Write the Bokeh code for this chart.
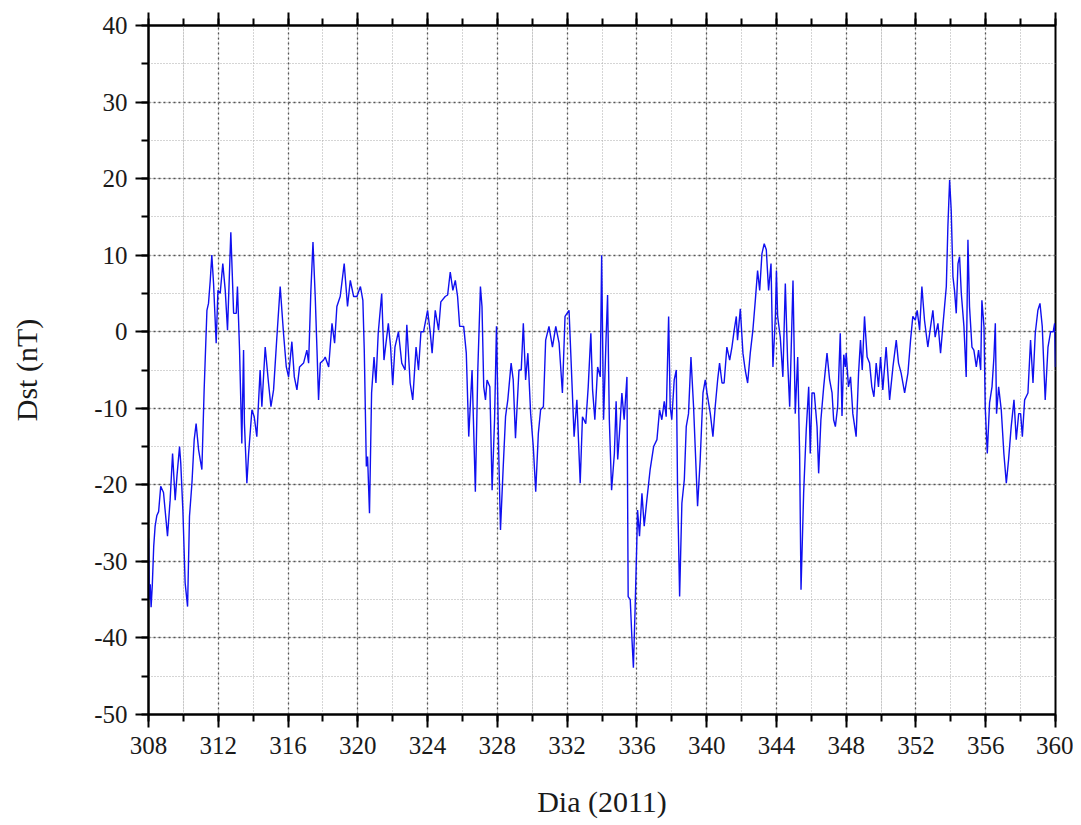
from bokeh.plotting import figure
from bokeh.models import (Range1d, LinearAxis, SingleIntervalTicker, CustomJSTickFormatter, Grid)
from bokeh.embed import file_html
from bokeh.resources import INLINE

# Day of year 2011 and Dst (nT), in four chunks
dia_1 = [308.00, 308.05, 308.10, 308.15, 308.22, 308.30, 308.38, 308.48, 308.58, 308.70,
         308.86, 309.09, 309.24, 309.38, 309.53, 309.63, 309.78, 309.85, 309.97, 310.10,
         310.24, 310.35, 310.49, 310.62, 310.73, 310.87, 311.06, 311.19, 311.35, 311.44,
         311.54, 311.63, 311.73, 311.88, 311.98, 312.11, 312.26, 312.40, 312.53, 312.72,
         312.88, 313.03, 313.10, 313.22, 313.35, 313.45, 313.50, 313.64, 313.74, 313.93,
         314.06, 314.21, 314.40, 314.50, 314.69, 314.88, 315.02, 315.17, 315.36, 315.55,
         315.74, 315.90, 316.03, 316.22, 316.36, 316.51, 316.66, 316.89, 317.08, 317.18,
         317.31, 317.43, 317.56, 317.66, 317.75, 317.85, 318.04, 318.13, 318.33, 318.52,
         318.67, 318.80, 318.99, 319.22, 319.41, 319.57, 319.76, 319.95, 320.15, 320.29,
         320.37, 320.49, 320.56, 320.67]
dst_1 = [-27, -35, -33, -36, -33, -28, -25.4, -24, -23.5, -20.2,
         -21, -26.7, -22, -15.9, -22, -18.9, -15, -17.2, -23.3, -32.8,
         -35.9, -24.1, -19.8, -14.1, -12, -15.4, -18, -7.6, 2.8, 3.7,
         6.7, 10, 6.3, -1.5, 5.4, 5, 8.9, 5.4, 0.2, 13,
         2.4, 2.4, 5.9, -2.4, -14.6, -2.4, -12, -19.8, -15.9, -10.2,
         -11.1, -13.7, -5, -9.8, -2, -6.7, -9.8, -7.6, -0.7, 5.9,
         -0.2, -4.6, -5.9, -1.3, -5.9, -7.6, -4.6, -4.1, -2.4, -4.1,
         5.4, 11.7, 4.5, -2.4, -8.9, -4.1, -3.7, -3.3, -4.6, 1.1,
         -1.5, 3.3, 4.6, 8.9, 3.3, 6.7, 4.6, 4.6, 5.9, 4.1,
         -2.4, -17.6, -16.3, -23.7]

dia_2 = [320.79, 320.93, 321.04, 321.17, 321.37, 321.50, 321.75, 321.88, 322.00, 322.13,
         322.33, 322.52, 322.71, 322.81, 323.00, 323.15, 323.34, 323.48, 323.62, 323.77,
         324.00, 324.15, 324.26, 324.44, 324.63, 324.76, 325.01, 325.15, 325.30, 325.45,
         325.59, 325.72, 325.84, 326.07, 326.22, 326.36, 326.55, 326.74, 326.88, 327.03,
         327.12, 327.22, 327.32, 327.41, 327.57, 327.70, 327.84, 327.95, 328.08, 328.18,
         328.33, 328.47, 328.60, 328.79, 328.91, 329.04, 329.24, 329.37, 329.49, 329.62,
         329.75, 329.91, 330.06, 330.20, 330.35, 330.48, 330.64, 330.77, 330.96, 331.16,
         331.35, 331.54, 331.73, 331.88, 332.11, 332.21, 332.40, 332.56, 332.75, 332.88,
         333.07, 333.21, 333.36, 333.46, 333.59, 333.75, 333.90, 333.98, 334.09, 334.23,
         334.32, 334.42, 334.55, 334.71]
dst_2 = [-8, -3.3, -6.7, -0.2, 5, -3.7, 1.1, -2, -7, -2,
         0, -4.1, -5, 0.9, -6.7, -8.9, -2, -5, 0, 0,
         2.8, 0, -2.8, 2.8, 0.2, 3.9, 4.6, 4.8, 7.8, 5.4,
         6.7, 4.6, 0.7, 0.7, -2.8, -13.7, -5, -20.9, -5, 5.9,
         3.3, -7.2, -8.9, -6.3, -7.2, -20.7, -11.5, 0.7, -15.9, -25.9,
         -18, -11.1, -8.9, -4.1, -6.3, -13.9, -5, -5, 1.1, -6.3,
         -2.8, -10.7, -15, -20.9, -13.3, -10.2, -9.8, -1.1, 0.7, -2,
         0.7, -1.5, -8, 2, 2.8, -2.8, -13.7, -8.9, -19.8, -11.1,
         -12, -7.2, -0.2, -7.6, -11.5, -4.6, -5.9, 10, -11.5, -1.1,
         4.8, -11.5, -20.7, -15.9]

dia_3 = [334.81, 334.90, 335.00, 335.14, 335.27, 335.43, 335.50, 335.62, 335.71, 335.80,
         335.90, 335.98, 336.04, 336.15, 336.29, 336.42, 336.57, 336.76, 336.96, 337.15,
         337.30, 337.43, 337.57, 337.68, 337.82, 337.91, 338.00, 338.14, 338.26, 338.33,
         338.45, 338.58, 338.72, 338.83, 338.96, 339.10, 339.25, 339.48, 339.63, 339.79,
         339.92, 340.02, 340.21, 340.36, 340.49, 340.63, 340.74, 340.88, 341.00, 341.16,
         341.32, 341.45, 341.58, 341.70, 341.77, 341.93, 342.08, 342.21, 342.35, 342.50,
         342.65, 342.79, 342.92, 343.04, 343.17, 343.30, 343.42, 343.55, 343.69, 343.80,
         343.94, 344.00, 344.07, 344.22, 344.37, 344.51, 344.64, 344.76, 344.95, 345.08,
         345.22, 345.33, 345.41, 345.56, 345.71, 345.85, 345.94, 346.04, 346.17, 346.33,
         346.42, 346.55, 346.71, 346.90, 347.05, 347.19, 347.28, 347.38, 347.51, 347.66,
         347.76, 347.86, 347.95]
dst_3 = [-9.1, -16.7, -13.3, -8, -11.5, -5.9, -34.6, -35, -39.8, -43.9,
         -36, -28.9, -23.3, -26.7, -21.1, -25.4, -22, -18, -15, -14.1,
         -10.2, -11.5, -9.1, -11.1, 2, -9.8, -11.5, -6.3, -5, -20.2,
         -34.6, -22.4, -19.3, -12.4, -10.7, -3.3, -9.8, -22.8, -16.7, -8,
         -6.3, -8, -10.7, -13.7, -9.8, -6.3, -4.1, -6.7, -6.7, -2,
         -3.7, -2, 0.2, 2, -1.1, 3, -2.8, -5, -6.7, -2.8,
         0.2, 4.1, 8, 5.4, 10.2, 11.5, 10.7, 5.4, 8.9, -4.6,
         2, 8, 2, -0.7, -5.9, 6.3, -3.7, -9.8, 6.7, -10.7,
         -3.3, -15.9, -33.7, -21.1, -12.8, -7.2, -15.9, -8, -8, -12.4,
         -18.5, -11.5, -7.2, -2.8, -6.3, -8, -11.5, -12.4, -9.8, -0.2,
         -11, -3, -4.6]

dia_4 = [348.00, 348.13, 348.25, 348.38, 348.57, 348.71, 348.82, 348.92, 349.05, 349.20,
         349.34, 349.47, 349.59, 349.72, 349.85, 349.97, 350.10, 350.29, 350.49, 350.68,
         350.87, 351.00, 351.15, 351.35, 351.54, 351.69, 351.82, 351.96, 352.07, 352.21,
         352.34, 352.49, 352.68, 352.84, 352.97, 353.10, 353.26, 353.41, 353.54, 353.74,
         353.83, 353.93, 354.02, 354.12, 354.21, 354.31, 354.41, 354.50, 354.60, 354.75,
         354.88, 354.98, 355.07, 355.21, 355.32, 355.46, 355.59, 355.71, 355.78, 355.90,
         355.97, 356.09, 356.22, 356.36, 356.47, 356.55, 356.62, 356.74, 356.89, 357.04,
         357.18, 357.31, 357.46, 357.62, 357.75, 357.89, 358.00, 358.10, 358.23, 358.42,
         358.57, 358.71, 358.84, 358.99, 359.11, 359.24, 359.41, 359.57, 359.72, 359.87,
         359.95, 360.00]
dst_4 = [-2.8, -7.2, -5.9, -10.7, -13.7, -5.4, -1.1, -5, 2, -3.3,
         -4.1, -7.2, -8.5, -4.1, -7.2, -3.3, -7.6, -2, -8.9, -4.6,
         -1.1, -4.1, -5.4, -8, -5.4, -1.1, 2, 1.5, 2.8, 0.2,
         5.9, 1.5, -2, 0.7, 2.8, -0.7, 1.1, -2.8, 0.7, 5.9,
         13.7, 19.8, 15.9, 7.2, 5.4, 2.4, 8.9, 9.8, 5, 0.7,
         -5.9, 12, 3.3, -2, -2.4, -4.6, -2.4, -5, 4.1, 0.7,
         -9.8, -15.9, -9.3, -7.2, -3.3, 1.1, -10.7, -7.2, -10.2, -15.9,
         -19.8, -16.7, -12.4, -8.9, -14.1, -10.7, -10.7, -13.7, -8.9, -8,
         -1.1, -6.7, -0.2, 2.8, 3.7, 0.7, -8.9, -2, 0, 0,
         1.1, -4.6]

dia = dia_1 + dia_2 + dia_3 + dia_4
dst = dst_1 + dst_2 + dst_3 + dst_4

FONT = "Liberation Serif"

p = figure(width=1073, height=820, output_backend="svg", toolbar_location=None,
           x_range=Range1d(308, 360), y_range=Range1d(-50, 40),
           x_axis_location=None, y_axis_location=None,
           min_border_left=148, min_border_right=18, min_border_top=25, min_border_bottom=105)
p.background_fill_color = "white"
p.border_fill_color = "white"
p.outline_line_color = "black"
p.outline_line_width = 2

xt = SingleIntervalTicker(interval=4, num_minor_ticks=2)
yt = SingleIntervalTicker(interval=10, num_minor_ticks=2)

def style_axis(ax):
    ax.axis_line_color = "black"
    ax.axis_line_width = 2
    ax.major_tick_line_width = 2
    ax.minor_tick_line_width = 2
    ax.major_tick_in = 0
    ax.minor_tick_in = 0
    ax.major_tick_out = 13
    ax.minor_tick_out = 7
    ax.major_label_text_font = FONT
    ax.major_label_text_font_size = "25px"
    ax.major_label_text_color = "#1a1a1a"
    ax.axis_label_text_font = FONT
    ax.axis_label_text_font_size = "30px"
    ax.axis_label_text_font_style = "normal"
    ax.axis_label_text_color = "#1a1a1a"

xb = LinearAxis(ticker=xt, formatter=CustomJSTickFormatter(code="return tick.toFixed(0)"),
                axis_label="Dia (2011)")
style_axis(xb)
xb.major_label_standoff = 9
xb.axis_label_standoff = 28
p.add_layout(xb, "below")

yl = LinearAxis(ticker=yt, formatter=CustomJSTickFormatter(code="return tick.toFixed(0)"),
                axis_label="Dst (nT)")
style_axis(yl)
yl.major_label_standoff = 8
yl.axis_label_standoff = 48
p.add_layout(yl, "left")

xa = LinearAxis(ticker=xt, formatter=CustomJSTickFormatter(code="return ''"))
style_axis(xa)
xa.major_label_standoff = 0
xa.major_label_text_font_size = "1px"
p.add_layout(xa, "above")

gx = Grid(dimension=0, ticker=xt)
gy = Grid(dimension=1, ticker=yt)
for g in (gx, gy):
    g.grid_line_color = "#555555"
    g.grid_line_width = 1.3
    g.grid_line_dash = "2 3"
    g.minor_grid_line_color = "#aaaaaa"
    g.minor_grid_line_width = 1
    g.minor_grid_line_dash = "1 2"
    p.add_layout(g)

p.line(dia, dst, line_color="#1010f0", line_width=1.4)

open("out.html", "w").write(file_html(p, INLINE))
